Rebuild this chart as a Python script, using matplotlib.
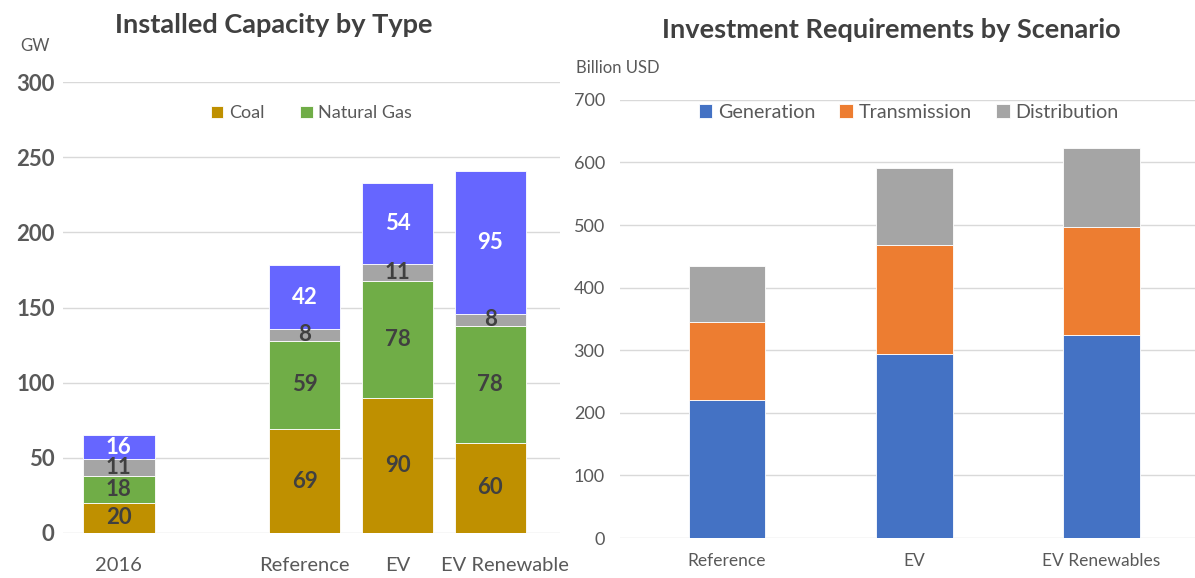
import matplotlib
matplotlib.use("Agg")
import matplotlib.pyplot as plt
import matplotlib.transforms as mtransforms
import numpy as np

plt.rcParams['font.family'] = ['Lato', 'DejaVu Sans']

# left chart: installed capacity (GW)
cap_cats = ['2016', '', 'Reference', 'EV', 'EV Renewable']
coal = [20, 0, 69, 90, 60]
gas = [18, 0, 59, 78, 78]
other = [11, 0, 8, 11, 8]
renew = [16, 0, 42, 54, 95]

# right chart: investment (billion USD)
inv_cats = ['Reference', 'EV', 'EV Renewables']
generation = [220, 294, 324]
transmission = [125, 174, 173]
distribution = [90, 123, 126]

TXT = '#595959'
GRID = '#D9D9D9'

fig = plt.figure(figsize=(11.95, 5.78), dpi=100)

# ---- left
ax1 = fig.add_axes([0.0527, 0.0779, 0.416, 0.780])
x = np.arange(len(cap_cats))
w = 0.77
cols = ['#BF9000', '#70AD47', '#A5A5A5', '#6666FF']
names = ['Coal', 'Natural Gas', None, None]
bottom = np.zeros(len(x))
for vals, c, n in zip([coal, gas, other, renew], cols, names):
    vals = np.array(vals, dtype=float)
    ax1.bar(x, vals, w, bottom=bottom, color=c, label=n if n else '_nolegend_',
            edgecolor='white', linewidth=0.6, zorder=3)
    for xi, v, b in zip(x, vals, bottom):
        if v > 0:
            tc = 'white' if c == '#6666FF' else '#404040'
            ax1.text(xi, b + v / 2, str(int(v)), ha='center', va='center',
                     fontsize=16, fontweight='bold', color=tc, zorder=4)
    bottom += vals

ax1.set_ylim(0, 300)
ax1.set_xlim(-0.6, 4.75)
ax1.set_yticks(range(0, 301, 50))
ax1.set_xticks(x)
ax1.set_xticklabels(cap_cats)
ax1.tick_params(axis='y', length=0, labelsize=16, labelcolor=TXT, pad=6)
ax1.tick_params(axis='x', length=0, labelsize=14.5, labelcolor=TXT, pad=17)
for lb in ax1.get_yticklabels():
    lb.set_fontweight('bold')
# excel nudged the last category label to the right
shift = mtransforms.ScaledTranslation(0.15, 0, fig.dpi_scale_trans)
last = ax1.get_xticklabels()[-1]
last.set_transform(last.get_transform() + shift)
ax1.grid(axis='y', color=GRID, linewidth=1, zorder=0)
for s in ax1.spines.values():
    s.set_visible(False)
ax1.legend(loc='center', bbox_to_anchor=(0.5, 0.931), ncol=2, frameon=False,
           fontsize=13, labelcolor=TXT, handlelength=0.7, handleheight=0.7,
           handletextpad=0.3, columnspacing=2.0)
fig.text(0.0167, 0.912, 'GW', fontsize=12, color=TXT)
fig.text(0.229, 0.957, 'Installed Capacity by Type', ha='center', va='center',
         fontsize=19.5, fontweight='bold', color='#404040')

# ---- right
ax2 = fig.add_axes([0.519, 0.0692, 0.481, 0.758])
x2 = np.arange(len(inv_cats))
w2 = 0.41
b2 = np.zeros(len(x2))
for vals, c, n in zip([generation, transmission, distribution],
                      ['#4472C4', '#ED7D31', '#A5A5A5'],
                      ['Generation', 'Transmission', 'Distribution']):
    vals = np.array(vals, dtype=float)
    ax2.bar(x2, vals, w2, bottom=b2, color=c, label=n, edgecolor='white',
            linewidth=0.6, zorder=3)
    b2 += vals

ax2.set_ylim(0, 700)
ax2.set_xlim(-0.57, 2.5)
ax2.set_yticks(range(0, 701, 100))
ax2.set_xticks(x2)
ax2.set_xticklabels(inv_cats)
ax2.tick_params(axis='y', length=0, labelsize=13, labelcolor=TXT, pad=11)
ax2.tick_params(axis='x', length=0, labelsize=12.5, labelcolor=TXT, pad=11)
ax2.grid(axis='y', color=GRID, linewidth=1, zorder=0)
for s in ax2.spines.values():
    s.set_visible(False)
ax2.legend(loc='center', bbox_to_anchor=(0.502, 0.972), ncol=3, frameon=False,
           fontsize=14.2, labelcolor=TXT, handlelength=0.7, handleheight=0.7,
           handletextpad=0.3, columnspacing=1.2)
fig.text(0.482, 0.873, 'Billion USD', fontsize=12, color=TXT)
fig.text(0.746, 0.948, 'Investment Requirements by Scenario', ha='center', va='center',
         fontsize=19.5, fontweight='bold', color='#404040')

fig.savefig('out.png', dpi=100)
